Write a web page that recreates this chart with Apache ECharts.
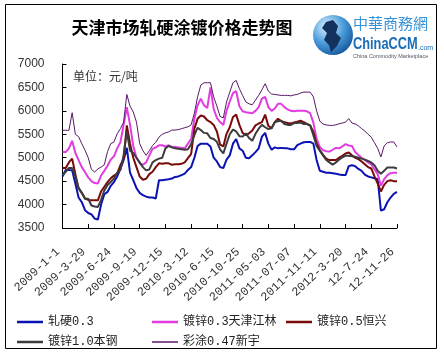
<!DOCTYPE html>
<html><head><meta charset="utf-8">
<script src="https://cdn.jsdelivr.net/npm/echarts@6/dist/echarts.min.js"></script>
<style>html,body{margin:0;padding:0;background:#fff}#c{width:444px;height:362px}</style>
</head><body><div id="c"></div>
<script>
const tickLabels = ['2009-1-1','2009-3-29','2009-6-24','2009-9-19','2009-12-15','2010-3-12','2010-6-15','2010-10-25','2011-05-03','2011-07-07','2011-11-11','2012-3-20','12-7-24','12-11-26'];
const pointsPerTick = 8;
const seriesNames = ['轧硬0.3','镀锌0.3天津江林','镀锌0.5恒兴','镀锌1.0本钢','彩涂0.47新宇'];

const rolledHard03 = [4600,4740,4740,4730,4450,4150,4050,3880,3820,3790,
 3700,3680,4000,4220,4270,4400,4480,4600,4760,4950,
 5210,4680,4520,4350,4250,4200,4170,4150,4150,4130,
 4520,4520,4530,4540,4555,4590,4600,4630,4660,4740,
 4800,5000,5250,5300,5300,5300,5240,5000,4920,4800,
 4780,4960,5050,5300,5400,5200,5150,5000,4990,5050,
 5120,5200,5450,5530,5300,5170,5220,5200,5210,5200,
 5200,5180,5180,5270,5300,5330,5336,5336,5300,4950,
 4720,4700,4680,4680,4670,4660,4640,4630,4630,4820,
 4840,4820,4760,4720,4640,4600,4580,4560,4540,3870,
 3900,4050,4150,4230,4270];
const galv03Jianglin = [5120,5120,5200,5360,5100,4950,4800,4695,4580,4500,
 4460,4450,4620,4720,4830,4960,5030,5200,5330,5700,
 6080,5700,5250,5000,4880,4850,4900,5050,5190,5220,
 5265,5265,5240,5265,5230,5230,5220,5210,5200,5300,
 5400,5834,6120,6260,6120,6060,6500,6045,5850,5760,
 5700,6000,6200,6380,6420,6100,5990,5970,5960,5950,
 6000,6080,6260,6300,6080,6000,6050,6150,6150,6080,
 6030,6000,5990,6000,6000,6000,5990,5950,5750,5400,
 5230,5160,5140,5130,5170,5210,5200,5240,5290,5260,
 5250,5120,5060,5000,4950,4900,4860,4750,4650,4400,
 4540,4630,4670,4680,4680];
const galv05Hengxing = [4780,4780,4900,4980,4650,4350,4250,4130,4100,4090,
 4090,4090,4280,4380,4480,4560,4620,4660,4840,4980,
 5690,5300,5000,4800,4600,4530,4550,4650,4700,4800,
 4880,4870,4880,4880,4850,4860,4860,4870,4900,4990,
 5080,5620,5830,5900,5880,5800,5760,5700,5560,5280,
 5240,5510,5650,5870,5920,5700,5530,5480,5520,5580,
 5690,5730,5760,5920,5680,5630,5760,5830,5780,5760,
 5740,5730,5750,5770,5790,5760,5720,5690,5550,5300,
 5160,5060,4980,4950,4950,4950,5000,5040,5090,5110,
 5050,5000,4970,4920,4860,4800,4770,4600,4450,4280,
 4420,4500,4520,4500,4500];
const galv10Bengang = [4625,4700,4780,4780,4600,4350,4250,4125,4125,3980,
 3960,3950,4100,4300,4420,4480,4560,4680,4740,5050,
 5560,5150,5100,5000,4900,4800,4730,4750,4900,4950,
 4980,5000,5200,5250,5220,5200,5190,5180,5170,5180,
 5290,5480,5640,5590,5530,5520,5420,5400,5340,5180,
 5090,5300,5500,5600,5560,5460,5450,5520,5420,5360,
 5510,5620,5700,5650,5610,5630,5760,5780,5790,5720,
 5700,5700,5740,5740,5750,5720,5720,5690,5480,5250,
 5150,5050,4950,4900,4850,4900,4960,5010,5040,5040,
 5030,5020,5000,4980,4960,4930,4900,4840,4720,4660,
 4720,4790,4790,4790,4770];
const coated047Xinyu = [5585,5585,5585,5960,5500,5450,5300,5160,5000,4750,
 4695,4760,4800,4850,5130,5300,5336,5510,5620,5760,
 6350,6100,5976,5760,5300,5150,5050,5150,5260,5330,
 5440,5500,5530,5550,5590,5590,5600,5620,5640,5660,
 5700,5950,6300,6550,6600,6600,6600,6300,6100,5880,
 5850,6190,6400,6600,6650,6470,6330,6190,6150,6130,
 6230,6330,6450,6580,6420,6360,6350,6340,6330,6330,
 6330,6320,6340,6350,6380,6400,6400,6400,6300,6000,
 5780,5720,5700,5690,5690,5700,5725,5740,5760,5834,
 5740,5720,5680,5620,5570,5500,5440,5320,5200,5015,
 5250,5320,5336,5336,5230];

const allValues = [rolledHard03, galv03Jianglin, galv05Hengxing, galv10Bengang, coated047Xinyu];
const colors = ['#0a12b4','#e03ce0','#780a0a','#3c3c3c','#5a1868'];
const widths = [2,2,2,2,1];
const toXY = arr => arr.map((v,i)=>[i,v]);

const chart = echarts.init(document.getElementById('c'), null, {renderer:'canvas'});
const legendPos = [[17,316],[152,316],[286,316],[17,336],[152,336]];
const legendFont = {fontSize:12, fontFamily:"'Liberation Mono','Noto Sans CJK SC'", color:'#222'};

const option = {
  animation:false,
  grid:{left:62.5,right:47,top:64,bottom:134,outerBoundsMode:'none'},
  xAxis:{type:'value',min:0,max:(tickLabels.length-1)*pointsPerTick,interval:pointsPerTick,
    axisLine:{lineStyle:{color:'#000',width:1}},
    axisTick:{inside:true,length:4,lineStyle:{color:'#000'}},
    splitLine:{show:false},
    axisLabel:{rotate:43,margin:18,padding:[0,6,0,0],
      formatter:v=>tickLabels[Math.round(v/pointsPerTick)]||'',
      fontFamily:"'Liberation Mono'",fontSize:12,color:'#333'}},
  yAxis:{type:'value',min:3500,max:7000,interval:500,
    axisLine:{show:true,lineStyle:{color:'#000',width:1}},
    axisTick:{show:true,inside:true,length:4,lineStyle:{color:'#000'}},
    splitLine:{show:false},
    axisLabel:{margin:18,formatter:v=>String(v),fontFamily:"'Liberation Sans'",fontSize:12,color:'#333'}},
  legend: seriesNames.map((n,i)=>({data:[n],left:legendPos[i][0],top:legendPos[i][1],
    icon:'rect',itemWidth:26,itemHeight:widths[i]+0.5,itemGap:0,padding:0,textStyle:legendFont})),
  series: allValues.map((arr,i)=>({name:seriesNames[i],type:'line',data:toXY(arr),
    symbol:'none',showSymbol:false,color:colors[i],
    lineStyle:{color:colors[i],width:widths[i]}})),
  graphic:[
    {type:'rect',silent:true,shape:{x:5.5,y:4.5,width:431,height:344},style:{fill:'none',stroke:'#000',lineWidth:1}},
    {type:'text',x:182,y:28,style:{text:'天津市场轧硬涂镀价格走势图',fontSize:17,fontWeight:'bold',fontFamily:'Noto Sans CJK SC',fill:'#000',align:'center',verticalAlign:'middle'}},
    {type:'text',x:73,y:76,style:{text:'单位：元/吨',fontSize:12,fontFamily:'Noto Sans CJK SC',fill:'#333',verticalAlign:'middle'}},
    {type:'circle',shape:{cx:333,cy:35,r:20},style:{fill:new echarts.graphic.RadialGradient(0.35,0.3,0.8,[{offset:0,color:'#e4f5ff'},{offset:0.5,color:'#4f9fdc'},{offset:1,color:'#0d4f96'}])}},
    {type:'polygon',shape:{points:[[326,22],[333,20],[338,26],[336,33],[341,38],[337,46],[331,52],[329,45],[324,40],[327,33],[322,28]]},style:{fill:'#13325e'}},
    {type:'text',x:353,y:23,style:{text:'中華商務網',fontSize:15,fontFamily:'Noto Sans CJK TC',fill:'#3492d8',verticalAlign:'middle'}},
    {type:'text',x:353,y:45,scaleX:0.8,style:{text:'ChinaCCM',fontSize:16,fontWeight:'bold',fontFamily:'Liberation Sans',fill:'#1b6db5',verticalAlign:'middle'}},
    {type:'text',x:418,y:48,style:{text:'.com',fontSize:7,fontFamily:'Liberation Sans',fill:'#1b6db5',verticalAlign:'middle'}},
    {type:'text',x:353,y:56,style:{text:'China Commodity Marketplace',fontSize:5.5,fontFamily:'Liberation Sans',fill:'#556',verticalAlign:'middle'}}
  ]
};
chart.setOption(option);
</script></body></html>
